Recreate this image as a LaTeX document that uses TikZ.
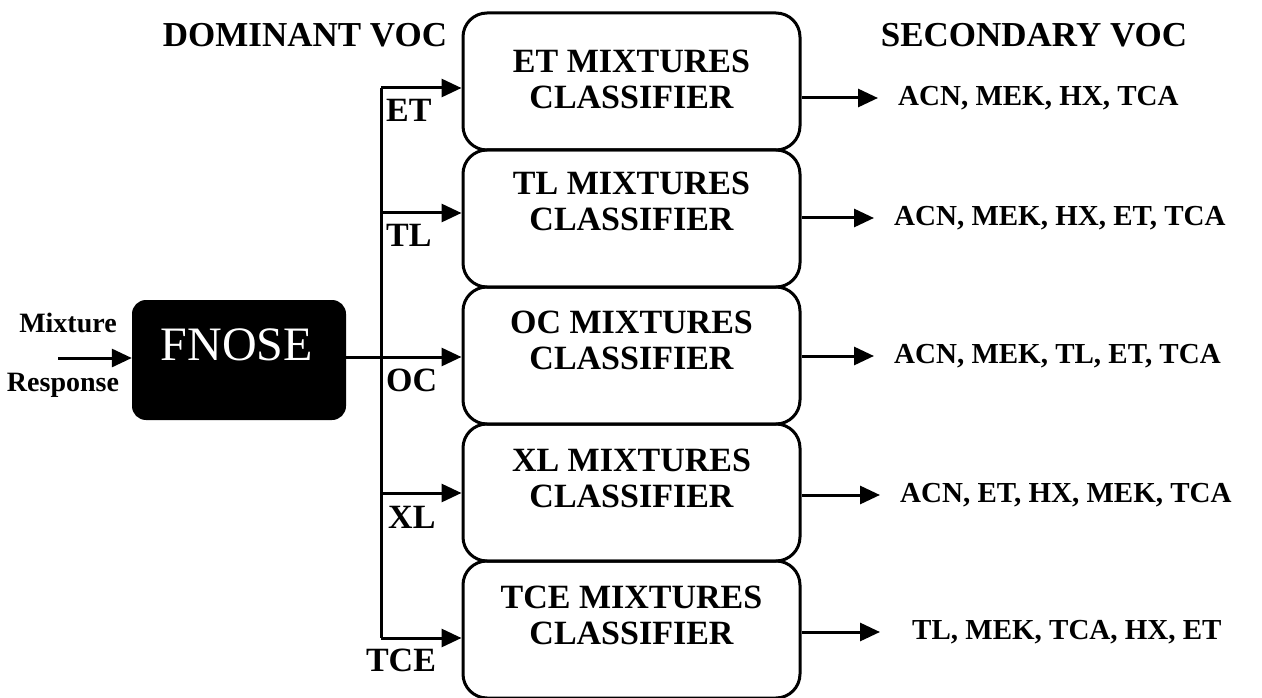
\documentclass[tikz,border=0pt]{standalone}
\usepackage{fontspec}
\setmainfont{Liberation Serif}
\usetikzlibrary{arrows.meta}
\begin{document}
\begin{tikzpicture}[x=1pt,y=-1pt,
  wire/.style={line width=3pt},
  arr/.style={line width=3pt,-{Triangle[length=20pt,width=18pt]}},
  clsbox/.style={draw,line width=3pt,rounded corners=24pt,minimum width=337pt,minimum height=137pt,inner sep=0pt},
  clstext/.style={font=\fontsize{34}{36}\selectfont\bfseries,align=center,inner sep=0pt},
  outtext/.style={font=\fontsize{29}{31}\selectfont\bfseries,anchor=west,inner sep=0pt},
  title/.style={font=\fontsize{35}{37}\selectfont\bfseries,inner sep=0pt},
  tag/.style={font=\fontsize{34}{36}\selectfont\bfseries,inner sep=0pt},
  inlabel/.style={font=\fontsize{28}{30}\selectfont\bfseries,inner sep=0pt,anchor=base}]
\useasboundingbox (0,0) rectangle (1262,698);
\fill[white] (0,0) rectangle (1262,698);

% titles
\node[title] (dom) at (305,35) {DOMINANT VOC};
\node[title] (sec) at (1034,35) {SECONDARY VOC};

% classifier boxes
\node[clsbox] (b1) at (631.5,81.5) {};
\node[clsbox] (b2) at (631.5,218.5) {};
\node[clsbox] (b3) at (631.5,355.5) {};
\node[clsbox] (b4) at (631.5,492.5) {};
\node[clsbox] (b5) at (631.5,629.5) {};

\node[clstext] (t1) at (631.5,79) {ET MIXTURES\\CLASSIFIER};
\node[clstext] (t2) at (631.5,201) {TL MIXTURES\\CLASSIFIER};
\node[clstext] (t3) at (631.5,340) {OC MIXTURES\\CLASSIFIER};
\node[clstext] (t4) at (631.5,478) {XL MIXTURES\\CLASSIFIER};
\node[clstext] (t5) at (631.5,615) {TCE MIXTURES\\CLASSIFIER};

% FNOSE block
\node[fill=black,rounded corners=14pt,minimum width=214pt,minimum height=120pt,inner sep=0pt] (fn) at (239,360) {};
\node[text=white,font=\fontsize{48}{50}\selectfont,inner sep=0pt] (fnt) at (237,345) {FNOSE};

% input
\node[inlabel] (mix) at (68,332) {Mixture};
\node[inlabel] (resp) at (63,391) {Response};
\coordinate (in) at (58,358);
\draw[arr] (in) -- (in -| fn.west);

% bus
\coordinate (bET) at (381,88);
\coordinate (bTL) at (381,213);
\coordinate (bOC) at (381,357);
\coordinate (bXL) at (381,493);
\coordinate (bTCE) at (381,638);
\draw[wire] (bET) -- (bTCE);
\draw[arr] (bET) -- (bET -| b1.west);
\draw[arr] (bTL) -- (bTL -| b2.west);
\draw[arr] (bOC -| fn.east) -- (bOC -| b3.west);
\draw[arr] (bXL) -- (bXL -| b4.west);
\draw[arr] (bTCE) -- (bTCE -| b5.west);

% dominant tags
\node[tag,anchor=west] (lET) at (386,110) {ET};
\node[tag,anchor=west] (lTL) at (386,235) {TL};
\node[tag,anchor=west] (lOC) at (386,380) {OC};
\node[tag,anchor=west] (lXL) at (388,517) {XL};
\node[tag] (lTCE) at (401,660) {TCE};

% outputs
\node[outtext] (o1) at (898,98) {ACN, MEK, HX, TCA};
\node[outtext] (o2) at (894,218) {ACN, MEK, HX, ET, TCA};
\node[outtext] (o3) at (894,356) {ACN, MEK, TL, ET, TCA};
\node[outtext] (o4) at (900,495) {ACN, ET, HX, MEK, TCA};
\node[outtext] (o5) at (912,632) {TL, MEK, TCA, HX, ET};
\draw[arr] (o1.west -| b1.east) -- ([xshift=-20pt]o1.west);
\draw[arr] (o2.west -| b2.east) -- ([xshift=-20pt]o2.west);
\draw[arr] (o3.west -| b3.east) -- ([xshift=-20pt]o3.west);
\draw[arr] (o4.west -| b4.east) -- ([xshift=-20pt]o4.west);
\draw[arr] (o5.west -| b5.east) -- ([xshift=-32pt]o5.west);
\end{tikzpicture}
\end{document}
